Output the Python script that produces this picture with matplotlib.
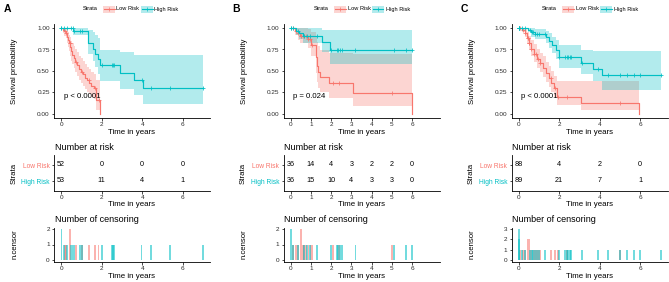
import numpy as np
import matplotlib
matplotlib.use("Agg")
import matplotlib.pyplot as plt
from matplotlib.patches import Rectangle
from matplotlib.lines import Line2D

plt.rcParams['font.family'] = ['Liberation Sans', 'DejaVu Sans']

RED = "#F8766D"
CYAN = "#00BFC4"
W, H = 669, 282

# ---- panel A ----
a_low_t = [0, 0.08, 0.15, 0.22, 0.28, 0.33, 0.40, 0.45, 0.50, 0.55, 0.62, 0.70, 0.80, 0.90, 1.00, 1.08, 1.18, 1.28, 1.38, 1.50, 1.62, 1.72, 1.90]
a_low_s = [1.0, 0.98, 0.96, 0.94, 0.90, 0.86, 0.82, 0.78, 0.73, 0.69, 0.65, 0.61, 0.57, 0.52, 0.49, 0.46, 0.42, 0.39, 0.36, 0.33, 0.30, 0.16, 0.0]
a_low_lo = [1.0, 0.94, 0.91, 0.88, 0.83, 0.78, 0.73, 0.68, 0.62, 0.58, 0.53, 0.49, 0.44, 0.40, 0.36, 0.33, 0.29, 0.26, 0.23, 0.20, 0.17, 0.05, 0.0]
a_low_hi = [1.0, 1.0, 1.0, 1.0, 0.98, 0.95, 0.92, 0.89, 0.85, 0.82, 0.79, 0.76, 0.72, 0.68, 0.65, 0.62, 0.58, 0.55, 0.52, 0.49, 0.46, 0.40, 0.0]
a_high_t = [0, 0.59, 1.31, 1.57, 1.69, 1.80, 1.93, 2.92, 3.62, 4.05]
a_high_s = [1.0, 0.97, 0.82, 0.75, 0.70, 0.64, 0.57, 0.48, 0.40, 0.30]
a_high_lo = [1.0, 0.92, 0.70, 0.62, 0.55, 0.47, 0.38, 0.29, 0.22, 0.12]
a_high_hi = [1.0, 1.0, 0.98, 0.95, 0.92, 0.88, 0.74, 0.72, 0.69, 0.69]
a_low_cens = [0.18, 0.26, 0.43, 0.43, 0.75, 1.03, 1.36, 1.69, 1.85]
a_high_cens = [0.02, 0.02, 0.13, 0.29, 0.49, 0.57, 0.66, 0.95, 1.03, 2.0, 2.5, 2.56, 2.62, 3.97, 4.43, 5.38, 7.0]
a_risk_t = [0, 2, 4, 6]
a_risk_low = [52, 0, 0, 0]
a_risk_high = [53, 11, 4, 1]
a_pval = "p < 0.0001"

# ---- panel B ----
b_low_t = [0, 0.20, 0.36, 0.47, 0.85, 1.01, 1.26, 1.30, 1.35, 1.45, 1.90, 3.08, 5.97]
b_low_s = [1.0, 0.97, 0.94, 0.91, 0.87, 0.80, 0.66, 0.56, 0.49, 0.43, 0.36, 0.24, 0.0]
b_low_lo = [1.0, 0.92, 0.86, 0.82, 0.77, 0.68, 0.48, 0.37, 0.30, 0.25, 0.19, 0.09, 0.0]
b_low_hi = [1.0, 1.0, 1.0, 1.0, 0.99, 0.95, 0.90, 0.84, 0.79, 0.75, 0.71, 0.70, 0.0]
b_high_t = [0, 0.25, 0.42, 0.62, 1.55, 1.93]
b_high_s = [1.0, 0.97, 0.94, 0.91, 0.84, 0.745]
b_high_lo = [1.0, 0.92, 0.87, 0.82, 0.72, 0.58]
b_high_hi = [1.0, 1.0, 1.0, 1.0, 0.98, 0.98]
b_low_cens = [0.1, 0.28, 0.38, 0.51, 0.51, 0.6, 0.68, 0.78, 0.88, 0.98, 1.05, 2.1, 2.4, 5.0]
b_high_cens = [0.02, 0.02, 0.1, 0.38, 0.65, 0.8, 0.95, 1.32, 1.98, 2.3, 2.36, 2.45, 2.55, 3.2, 5.1, 5.7, 5.98]
b_risk_t = [0, 1, 2, 3, 4, 5, 6]
b_risk_low = [36, 14, 4, 3, 2, 2, 0]
b_risk_high = [36, 15, 10, 4, 3, 3, 0]
b_pval = "p = 0.024"

# ---- panel C ----
c_low_t = [0, 0.15, 0.30, 0.40, 0.50, 0.62, 0.75, 0.90, 1.05, 1.20, 1.35, 1.50, 1.62, 1.75, 1.88, 3.07, 5.96]
c_low_s = [1.0, 0.98, 0.94, 0.88, 0.82, 0.76, 0.70, 0.64, 0.59, 0.54, 0.48, 0.42, 0.36, 0.30, 0.20, 0.13, 0.0]
c_low_lo = [1.0, 0.95, 0.89, 0.81, 0.74, 0.67, 0.61, 0.54, 0.49, 0.43, 0.37, 0.31, 0.26, 0.20, 0.11, 0.05, 0.0]
c_low_hi = [1.0, 1.0, 0.99, 0.95, 0.91, 0.86, 0.81, 0.76, 0.71, 0.67, 0.61, 0.56, 0.50, 0.44, 0.38, 0.38, 0.0]
c_high_t = [0, 0.45, 0.60, 0.80, 1.35, 1.50, 1.67, 1.83, 1.98, 3.06, 3.65, 4.10]
c_high_s = [1.0, 0.98, 0.95, 0.93, 0.90, 0.85, 0.80, 0.74, 0.66, 0.59, 0.52, 0.45]
c_high_lo = [1.0, 0.95, 0.90, 0.87, 0.83, 0.77, 0.71, 0.64, 0.53, 0.47, 0.38, 0.28]
c_high_hi = [1.0, 1.0, 1.0, 0.99, 0.97, 0.94, 0.90, 0.86, 0.80, 0.74, 0.73, 0.73]
c_low_cens = [0.08, 0.2, 0.3, 0.44, 0.44, 0.5, 0.5, 0.62, 0.75, 0.85, 0.95, 1.05, 1.6, 1.8, 1.95, 2.4, 5.0]
c_high_cens = [0.0, 0.0, 0.0, 0.04, 0.04, 0.15, 0.3, 0.55, 0.65, 0.72, 0.8, 0.9, 1.0, 1.3, 2.0, 2.3, 2.38, 2.45,
               2.52, 2.6, 3.14, 3.92, 4.4, 5.02, 5.34, 5.7, 5.98, 7.03]
c_risk_t = [0, 2, 4, 6]
c_risk_low = [88, 4, 2, 0]
c_risk_high = [89, 21, 7, 1]
c_pval = "p < 0.0001"

panels = [
    dict(tag="A", left=54, leg=83,
         low=(a_low_t, a_low_s, a_low_lo, a_low_hi, a_low_cens),
         high=(a_high_t, a_high_s, a_high_lo, a_high_hi, a_high_cens),
         rt=a_risk_t, rlow=a_risk_low, rhigh=a_risk_high, p=a_pval, xt=[0, 2, 4, 6]),
    dict(tag="B", left=283.5, leg=314,
         low=(b_low_t, b_low_s, b_low_lo, b_low_hi, b_low_cens),
         high=(b_high_t, b_high_s, b_high_lo, b_high_hi, b_high_cens),
         rt=b_risk_t, rlow=b_risk_low, rhigh=b_risk_high, p=b_pval, xt=[0, 1, 2, 3, 4, 5, 6]),
    dict(tag="C", left=511.5, leg=542,
         low=(c_low_t, c_low_s, c_low_lo, c_low_hi, c_low_cens),
         high=(c_high_t, c_high_s, c_high_lo, c_high_hi, c_high_cens),
         rt=c_risk_t, rlow=c_risk_low, rhigh=c_risk_high, p=c_pval, xt=[0, 2, 4, 6]),
]

fig = plt.figure(figsize=(W / 100, H / 100), dpi=100)
AW = 156


def box(x0, y0, x1, y1):
    return [x0 / W, 1 - y1 / H, (x1 - x0) / W, (y1 - y0) / H]


def T(x, y, s, **kw):
    kw.setdefault("ha", "center")
    kw.setdefault("va", "center")
    fig.text(x / W, 1 - y / H, s, **kw)


def style(ax, xt):
    for sp in ["top", "right"]:
        ax.spines[sp].set_visible(False)
    for sp in ["left", "bottom"]:
        ax.spines[sp].set_linewidth(0.6)
    ax.tick_params(length=1.8, width=0.5, pad=1.2, labelsize=4.6, labelcolor="#2a2a2a")
    ax.set_xlim(-0.35, 7.35)
    ax.set_xticks(xt)


def km(ax, data, color):
    t, s, lo, hi, cens = data
    t_end = max(max(t), max(cens))
    if s[-1] == 0:
        n = len(t) - 1
        rx = list(t[:n]) + [t[n]]
        rlo = list(lo[:n]) + [lo[n - 1]]
        rhi = list(hi[:n]) + [hi[n - 1]]
        lx, ly = list(t), list(s)
    else:
        rx = list(t) + [t_end]
        rlo = list(lo) + [lo[-1]]
        rhi = list(hi) + [hi[-1]]
        lx, ly = list(t) + [t_end], list(s) + [s[-1]]
    ax.fill_between(rx, rlo, rhi, step="post", color=color, alpha=0.3, lw=0)
    ax.step(lx, ly, where="post", color=color, lw=0.85)
    ct = np.array([c for c in cens if c < t[-1] or s[-1] > 0])
    idx = np.searchsorted(t, ct, side="right") - 1
    ax.plot(ct, np.array(s)[idx], ls="none", marker="+", ms=3.5, mew=0.55, color=color)


for p in panels:
    L = p["left"]
    # survival curves
    ax = fig.add_axes(box(L, 23.7, L + AW, 118.3))
    km(ax, p["low"], RED)
    km(ax, p["high"], CYAN)
    ax.set_ylim(-0.05, 1.05)
    ax.set_yticks([0, 0.25, 0.5, 0.75, 1.0])
    ax.set_yticklabels(["0.00", "0.25", "0.50", "0.75", "1.00"])
    style(ax, p["xt"])
    ax.text(0.12, 0.2, p["p"], fontsize=5.6, ha="left", va="center")
    T(L - 39, 71, "Survival probability", rotation=90, fontsize=5.6)
    T(L + AW / 2, 132.7, "Time in years", fontsize=5.7)

    # risk table
    ax = fig.add_axes(box(L, 155.4, L + AW, 190.6))
    ax.set_ylim(0.4, 2.6)
    for x, v in zip(p["rt"], p["rlow"]):
        ax.text(x, 2, str(v), fontsize=5.2, ha="center", va="center")
    for x, v in zip(p["rt"], p["rhigh"]):
        ax.text(x, 1, str(v), fontsize=5.2, ha="center", va="center")
    style(ax, p["rt"])
    ax.set_yticks([1, 2])
    ax.set_yticklabels(["High Risk", "Low Risk"], fontsize=4.8)
    ax.get_yticklabels()[0].set_color(CYAN)
    ax.get_yticklabels()[1].set_color(RED)
    T(L + 1, 147, "Number at risk", ha="left", fontsize=6.5)
    T(L - 40, 173, "Strata", rotation=90, fontsize=5.6)
    T(L + AW / 2, 204.3, "Time in years", fontsize=5.7)

    # censoring
    ax = fig.add_axes(box(L, 227.5, L + AW, 261.5))
    mx = 0
    for data, color in [(p["low"], RED), (p["high"], CYAN)]:
        u, c = np.unique(data[4], return_counts=True)
        ax.bar(u, c, width=0.09, color=color, alpha=0.55, lw=0)
        mx = max(mx, c.max())
    ax.set_ylim(-0.05 * mx, 1.05 * mx)
    ax.set_yticks(range(mx + 1))
    style(ax, p["xt"])
    T(L + 1, 219, "Number of censoring", ha="left", fontsize=6.5)
    T(L - 39, 244, "n.censor", rotation=90, fontsize=5.6)
    T(L + AW / 2, 276, "Time in years", fontsize=5.7)

    # legend
    S = p["leg"]
    T(S, 9, "Strata", ha="left", fontsize=4.1)
    for k, (lab, color) in enumerate([("Low Risk", RED), ("High Risk", CYAN)]):
        kx = S + 20 + 38 * k
        fig.add_artist(Rectangle((kx / W, 1 - 12.5 / H), 12 / W, 7 / H, transform=fig.transFigure,
                                 facecolor=color, alpha=0.3, lw=0))
        fig.add_artist(Line2D([(kx + 0.5) / W, (kx + 11.5) / W], [1 - 9 / H] * 2, transform=fig.transFigure,
                              color=color, lw=0.8))
        fig.add_artist(Line2D([(kx + 6) / W], [1 - 9 / H], transform=fig.transFigure, color=color,
                              marker="+", ms=3, mew=0.5))
        T(kx + 13.5, 9, lab, ha="left", fontsize=4.1)

    T(L - 47, 9, p["tag"], fontsize=7.5, fontweight="bold")

fig.savefig("out.png", dpi=100)
